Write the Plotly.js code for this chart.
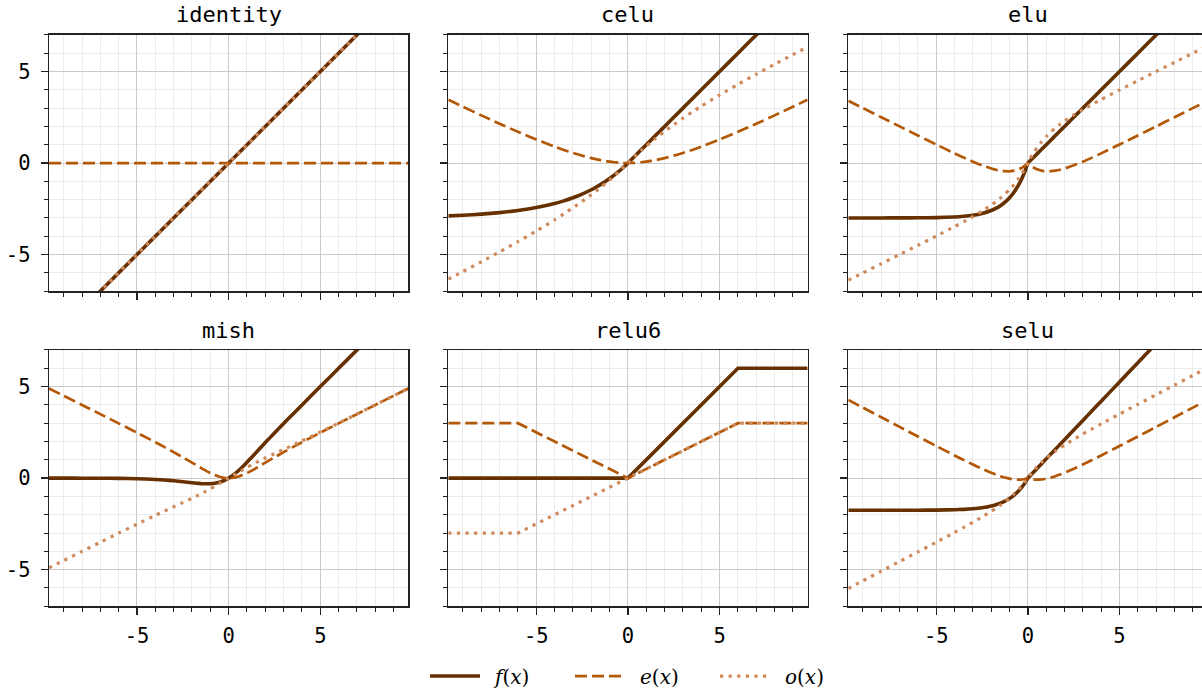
<!DOCTYPE html>
<html><head><meta charset="utf-8">
<script src="https://cdn.plot.ly/plotly-3.0.1.min.js"></script>
<style>html,body{margin:0;padding:0;background:#fff}#chart{width:1202px;height:696px}</style>
</head><body><div id="chart"></div>
<script>
// ---------------- data ----------------
const panelNames = ['identity', 'celu', 'elu', 'mish', 'relu6', 'selu'];
const seriesNames = ['f(x)', 'e(x)', 'o(x)'];
const tickValues = [-5, 0, 5];
const tickLabels = ['-5', '0', '5'];

const gridX = [-9.8,-9,-8,-7,-6,-5,-4,-3.5,-3,-2.5,-2,-1.75,-1.5,-1.25,-1,-0.75,-0.5,-0.375,-0.25,-0.125,0,0.125,0.25,0.375,0.5,0.75,1,1.25,1.5,1.75,2,2.5,3,3.5,4,5,6,7,8,9,9.8];

const identityX = [-9.8, -5, 0, 5, 9.8];
const identityF = [-9.8, -5, 0, 5, 9.8];
const identityE = [0, 0, 0, 0, 0];
const identityO = [-9.8, -5, 0, 5, 9.8];

const celuF = [-2.886,-2.851,-2.792,-2.709,-2.594,-2.433,-2.209,-2.066,-1.896,-1.696,-1.460,-1.326,-1.180,-1.022,-0.850,-0.664,-0.461,-0.353,-0.240,-0.122,0,0.125,0.25,0.375,0.5,0.75,1,1.25,1.5,1.75,2,2.5,3,3.5,4,5,6,7,8,9,9.8];
const celuE = [3.457,3.075,2.604,2.146,1.703,1.284,0.896,0.717,0.552,0.402,0.270,0.212,0.160,0.114,0.075,0.043,0.0195,0.011,0.005,0.0013,0,0.0013,0.005,0.011,0.0195,0.043,0.075,0.114,0.160,0.212,0.270,0.402,0.552,0.717,0.896,1.284,1.703,2.146,2.604,3.075,3.457];
const celuO = [-6.343,-5.926,-5.396,-4.855,-4.297,-3.717,-3.105,-2.783,-2.448,-2.098,-1.730,-1.538,-1.340,-1.136,-0.925,-0.707,-0.481,-0.364,-0.245,-0.124,0,0.124,0.245,0.364,0.481,0.707,0.925,1.136,1.340,1.538,1.730,2.098,2.448,2.783,3.105,3.717,4.297,4.855,5.396,5.926,6.343];

const eluF = [-3.000,-3.000,-2.999,-2.997,-2.993,-2.980,-2.945,-2.909,-2.851,-2.754,-2.594,-2.479,-2.331,-2.140,-1.896,-1.583,-1.180,-0.938,-0.664,-0.353,0,0.125,0.25,0.375,0.5,0.75,1,1.25,1.5,1.75,2,2.5,3,3.5,4,5,6,7,8,9,9.8];
const eluE = [3.400,3.000,2.501,2.002,1.504,1.010,0.528,0.296,0.075,-0.127,-0.297,-0.365,-0.416,-0.445,-0.448,-0.417,-0.340,-0.282,-0.207,-0.114,0,-0.114,-0.207,-0.282,-0.340,-0.417,-0.448,-0.445,-0.416,-0.365,-0.297,-0.127,0.075,0.296,0.528,1.010,1.504,2.002,2.501,3.000,3.400];
const eluO = [-6.400,-6.000,-5.500,-4.999,-4.497,-3.990,-3.473,-3.205,-2.926,-2.627,-2.297,-2.115,-1.916,-1.695,-1.448,-1.167,-0.840,-0.657,-0.457,-0.239,0,0.239,0.457,0.657,0.840,1.167,1.448,1.695,1.916,2.115,2.297,2.627,2.926,3.205,3.473,3.990,4.497,4.999,5.500,6.000,6.400];

const mishF = [-0.001,-0.001,-0.003,-0.006,-0.015,-0.034,-0.073,-0.104,-0.146,-0.197,-0.253,-0.278,-0.298,-0.308,-0.303,-0.277,-0.221,-0.180,-0.130,-0.070,0,0.080,0.170,0.268,0.375,0.610,0.865,1.132,1.403,1.675,1.944,2.471,2.987,3.494,3.997,5.000,6.000,7.000,8.000,9.000,9.800];
const mishE = [4.900,4.500,3.999,3.497,2.993,2.483,1.962,1.695,1.420,1.137,0.846,0.699,0.553,0.412,0.281,0.167,0.077,0.044,0.020,0.005,0,0.005,0.020,0.044,0.077,0.167,0.281,0.412,0.553,0.699,0.846,1.137,1.420,1.695,1.962,2.483,2.993,3.497,3.999,4.500,4.900];
const mishO = [-4.900,-4.501,-4.001,-3.503,-3.007,-2.517,-2.035,-1.799,-1.566,-1.334,-1.098,-0.977,-0.851,-0.720,-0.584,-0.443,-0.298,-0.224,-0.150,-0.075,0,0.075,0.150,0.224,0.298,0.443,0.584,0.720,0.851,0.977,1.098,1.334,1.566,1.799,2.035,2.517,3.007,3.503,4.001,4.501,4.900];

const relu6X = [-9.8, -6, 0, 6, 9.8];
const relu6F = [0, 0, 0, 6, 6];
const relu6E = [3, 3, 0, 3, 3];
const relu6O = [-3, -3, 0, 3, 3];

const seluF = [-1.758,-1.758,-1.758,-1.757,-1.754,-1.746,-1.726,-1.705,-1.671,-1.614,-1.520,-1.453,-1.366,-1.254,-1.111,-0.928,-0.692,-0.550,-0.389,-0.207,0,0.131,0.263,0.394,0.525,0.788,1.051,1.313,1.576,1.839,2.101,2.627,3.152,3.678,4.203,5.254,6.304,7.355,8.406,9.456,10.297];
const seluE = [4.270,3.849,3.324,2.799,2.275,1.754,1.239,0.986,0.741,0.507,0.291,0.193,0.105,0.030,-0.030,-0.070,-0.083,-0.078,-0.063,-0.038,0,-0.038,-0.063,-0.078,-0.083,-0.070,-0.030,0.030,0.105,0.193,0.291,0.507,0.741,0.986,1.239,1.754,2.275,2.799,3.324,3.849,4.270];
const seluO = [-6.028,-5.607,-5.082,-4.556,-4.029,-3.500,-2.964,-2.691,-2.411,-2.120,-1.811,-1.646,-1.471,-1.284,-1.081,-0.858,-0.609,-0.472,-0.326,-0.169,0,0.169,0.326,0.472,0.609,0.858,1.081,1.284,1.471,1.646,1.811,2.120,2.411,2.691,2.964,3.500,4.029,4.556,5.082,5.607,6.028];

// ---------------- build ----------------
const panels = [
  {x: identityX, s: [identityF, identityE, identityO], shape: 'linear'},
  {x: gridX, s: [celuF, celuE, celuO], shape: 'spline'},
  {x: gridX, s: [eluF, eluE, eluO], shape: 'spline'},
  {x: gridX, s: [mishF, mishE, mishO], shape: 'spline'},
  {x: relu6X, s: [relu6F, relu6E, relu6O], shape: 'linear'},
  {x: gridX, s: [seluF, seluE, seluO], shape: 'spline'}
];

const lineStyles = [
  {color: '#663000', width: 3.6, dash: 'solid'},
  {color: '#b35806', width: 2.7, dash: '12px,5px'},
  {color: '#cf8a5c', width: 3.2, dash: '3.2px,5.4px'}
];
const legendLabels = ['\u2002<i>f</i>(<i>x</i>)', '\u2002<i>e</i>(<i>x</i>)', '\u2002<i>o</i>(<i>x</i>)'];

const W = 1202, H = 696;
const colLeft = [49, 448.3, 848.3];
const panelW = 359.3;
const rowTop = [35, 351];
const panelH = 257;
const xRanges = [[-9.8, 9.8], [-9.8, 9.8], [-9.8, 9.5]];

const traces = [];
panels.forEach((p, i) => {
  const suffix = i === 0 ? '' : String(i + 1);
  p.s.forEach((ys, k) => {
    traces.push({
      type: 'scatter', mode: 'lines',
      x: p.x, y: ys,
      xaxis: 'x' + suffix, yaxis: 'y' + suffix,
      name: legendLabels[k],
      legendgroup: seriesNames[k],
      showlegend: i === 0,
      line: Object.assign({shape: p.shape, smoothing: 0.6}, lineStyles[k]),
      hoverinfo: 'skip'
    });
  });
});

const axBase = {
  showline: true, linecolor: '#222', linewidth: 1.4,
  ticks: 'outside', ticklen: 7, tickwidth: 1.3, tickcolor: '#222',
  zeroline: false, showgrid: true, gridcolor: '#cacaca', gridwidth: 1,
  tickmode: 'array', tickvals: tickValues, ticktext: tickLabels,
  minor: {tickmode: 'linear', tick0: 0, dtick: 1, ticks: 'outside', ticklen: 4,
          tickwidth: 1, tickcolor: '#222', showgrid: true, gridcolor: '#ebebeb', gridwidth: 1},
  tickfont: {family: 'DejaVu Sans Mono', size: 20.5, color: '#000'},
  fixedrange: true
};

const layout = {
  width: W, height: H,
  margin: {l: 0, r: 0, t: 0, b: 0},
  paper_bgcolor: '#fff', plot_bgcolor: '#fff',
  showlegend: true,
  legend: {
    orientation: 'h', x: 425 / W, y: 1 - 678 / H, xanchor: 'left', yanchor: 'middle',
    font: {family: 'DejaVu Serif', size: 20, color: '#000'},
    itemwidth: 50, entrywidth: 80, bgcolor: 'rgba(0,0,0,0)'
  },
  annotations: []
};

panels.forEach((p, i) => {
  const row = Math.floor(i / 3), col = i % 3;
  const suffix = i === 0 ? '' : String(i + 1);
  const xd = [colLeft[col] / W, Math.min(1, (colLeft[col] + panelW) / W)];
  const yd = [1 - (rowTop[row] + panelH) / H, 1 - rowTop[row] / H];
  layout['xaxis' + suffix] = Object.assign({}, axBase, {
    domain: xd, range: xRanges[col], anchor: 'y' + suffix,
    mirror: true, showticklabels: row === 1, ticklabelstandoff: 4
  });
  layout['yaxis' + suffix] = Object.assign({}, axBase, {
    domain: yd, range: [-7, 7], anchor: 'x' + suffix,
    mirror: col !== 2, showticklabels: col === 0, ticklabelstandoff: 6
  });
  layout.annotations.push({
    text: panelNames[i], xref: 'paper', yref: 'paper',
    x: (colLeft[col] + panelW / 2) / W, y: 1 - (rowTop[row] - 20) / H,
    xanchor: 'center', yanchor: 'middle', showarrow: false,
    font: {family: 'DejaVu Sans Mono', size: 22, color: '#000'}
  });
});

Plotly.newPlot('chart', traces, layout, {staticPlot: true, displayModeBar: false});
</script>
</body></html>
